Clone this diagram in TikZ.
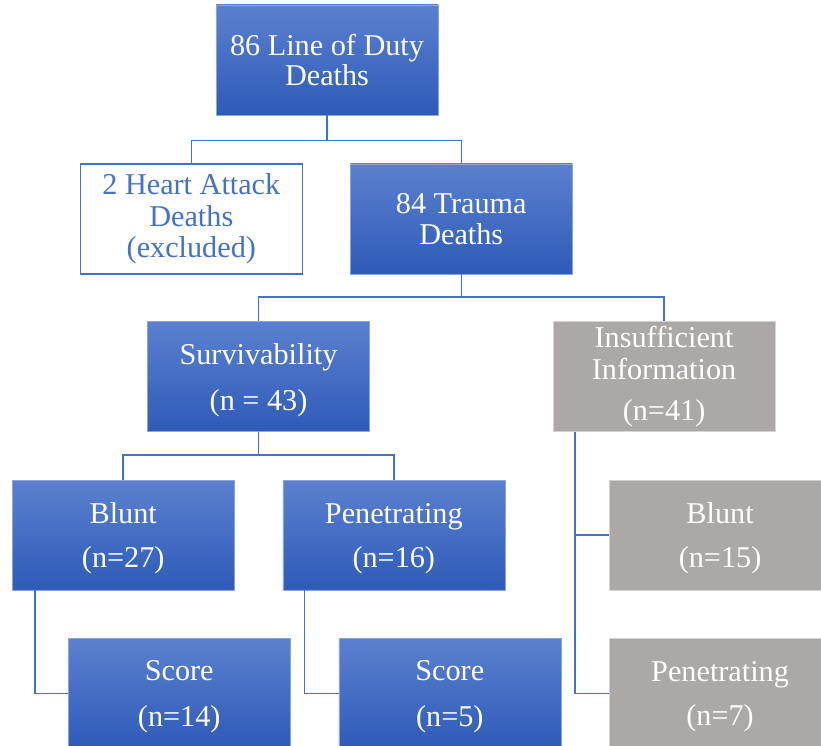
\documentclass[tikz,border=0pt]{standalone}
\usepackage{fontspec}
\setmainfont{Liberation Serif}
\usetikzlibrary{positioning}
\definecolor{bluetop}{HTML}{5B80CF}
\definecolor{bluemid}{HTML}{3A6ACB}
\definecolor{bluebot}{HTML}{2E5BB8}
\definecolor{blueline}{HTML}{4472C4}
\definecolor{greybox}{HTML}{ABA8A7}

\begin{document}
\begin{tikzpicture}[
  node distance=1.2cm and 1.2cm,
  mynode/.style={rectangle,minimum width=5.55cm,minimum height=2.75cm,inner sep=0pt,align=center,font=\fontsize{21.5}{22}\selectfont},
  mynodeb/.style={mynode,draw=bluetop!70!white,top color=bluetop,middle color=bluemid,bottom color=bluebot,text=white},
  mynodew/.style={mynode,draw=blueline,line width=1pt,fill=white,text=blueline},
  mynodeg/.style={mynode,draw=greybox!50!white,fill=greybox,text=white},
  mynoden/.style={text depth=0pt},
  myline/.style={draw=blueline,line width=1.1pt}
]
\useasboundingbox (0,0) rectangle (20.525,-18.65);
\node[mynodeb] (lod) at (8.175,-1.5) {86 Line of Duty\\Deaths};
\node[mynodew, below left=1.2cm and 0.6cm of lod.south] (heart) {2 Heart Attack\\[0.02cm]Deaths\\[0.02cm](excluded)};
\node[mynodeb, right=1.175cm of heart] (trauma) {84 Trauma\\Deaths};
\node[mynodeb, mynoden, below left=1.175cm and 2.2875cm of trauma.south] (surv) {Survivability\\[0.375cm](n = 43)};
\node[mynodeg, right=4.575cm of surv] (insuf) {Insufficient\\[0.02cm]Information\\[0.25cm](n=41)};
\node[mynodeb, mynoden, below left=1.2cm and 0.6cm of surv.south] (blunt) {Blunt\\[0.325cm](n=27)};
\node[mynodeb, mynoden, right=1.2cm of blunt] (pen) {Penetrating\\[0.325cm](n=16)};
\node[mynodeb, mynoden, below right=1.2cm and 1.4cm of blunt.south west] (score1) {Score\\[0.375cm](n=14)};
\node[mynodeb, mynoden, below right=1.2cm and 1.4cm of pen.south west] (score2) {Score\\[0.375cm](n=5)};
\node[mynodeg, mynoden, below right=1.2cm and 1.4cm of insuf.south west] (gblunt) {Blunt\\[0.325cm](n=15)};
\node[mynodeg, mynoden, below=1.2cm of gblunt] (gpen) {Penetrating\\[0.325cm](n=7)};
\draw[myline] (lod.south) -- ++(0,-0.625) -| (heart.north);
\draw[myline] (lod.south) -- ++(0,-0.625) -| (trauma.north);
\draw[myline] (trauma.south) -- ++(0,-0.575) -| (surv.north);
\draw[myline] (trauma.south) -- ++(0,-0.575) -| (insuf.north);
\draw[myline] (surv.south) -- ++(0,-0.575) -| (blunt.north);
\draw[myline] (surv.south) -- ++(0,-0.575) -| (pen.north);
\draw[myline] ([xshift=0.575cm]blunt.south west) |- (score1.west);
\draw[myline] ([xshift=0.55cm]pen.south west) |- (score2.west);
\draw[myline] ([xshift=0.55cm]insuf.south west) |- (gblunt.west);
\draw[myline] ([xshift=0.55cm]insuf.south west) |- (gpen.west);
\end{tikzpicture}
\end{document}
